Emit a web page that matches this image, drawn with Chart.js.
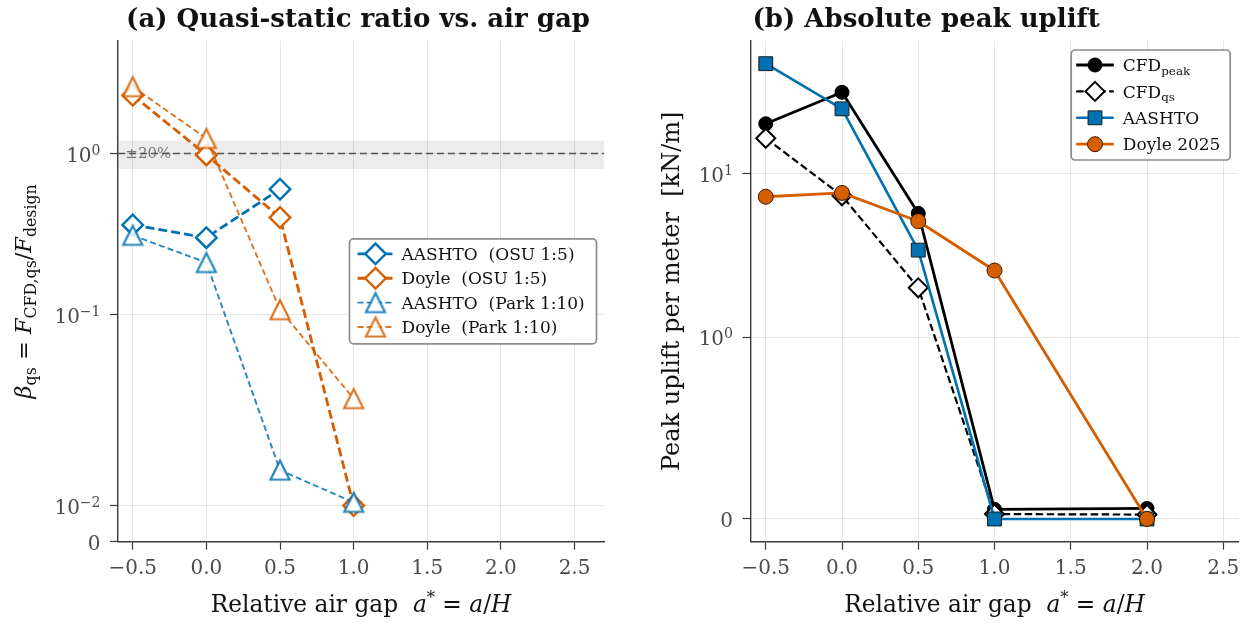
<!DOCTYPE html>
<html>
<head>
<meta charset="utf-8">
<script src="https://cdn.jsdelivr.net/npm/chart.js@4.4.1/dist/chart.umd.min.js"></script>
<style>
  html, body { margin: 0; padding: 0; background: #fff; }
  #wrap { position: relative; width: 1250px; height: 623px; overflow: hidden; }
  .panel { position: absolute; top: 0; width: 625px; height: 623px; }
</style>
</head>
<body>
<div id="wrap">
  <div class="panel" style="left:0"><canvas id="ratioChart" width="625" height="623"></canvas></div>
  <div class="panel" style="left:625px"><canvas id="upliftChart" width="625" height="623"></canvas></div>
</div>
<script>
// Panel (a): quasi-static ratio against relative air gap
const ratioGap = [-0.5, 0.0, 0.5, 1.0];
const aashtoOsu = [0.36, 0.30, 0.60, null];
const doyleOsu = [2.3, 0.98, 0.40, 0.0101];
const aashtoPark = [0.31, 0.21, 0.020, 0.011];
const doylePark = [2.6, 1.24, 0.107, 0.040];

// Panel (b): absolute peak uplift [kN/m]
const upliftGap = [-0.5, 0.0, 0.5, 1.0, 2.0];
const cfdPeak = [20.1, 31.3, 5.7, 0.053, 0.058];
const cfdQs = [16.4, 7.3, 2.0, 0.027, 0.024];
const aashtoUplift = [46.8, 24.8, 3.4, 0, 0];
const doyleUplift = [7.2, 7.6, 5.1, 2.55, 0];

// axes ticks ('^' marks an exponent)
const xTicks = [-0.5, 0, 0.5, 1, 1.5, 2, 2.5];
const xTickLabels = ['−0.5', '0.0', '0.5', '1.0', '1.5', '2.0', '2.5'];
const ratioTicks = [0, 0.01, 0.1, 1];
const ratioTickLabels = ['0', '10^−2', '10^−1', '10^0'];
const upliftTicks = [0, 1, 10];
const upliftTickLabels = ['0', '10^0', '10^1'];

// ±20% acceptance band around beta = 1
const bandLow = 0.8;
const bandHigh = 1.2;
const bandRef = 1.0;
const bandLabel = '±20%';
const bandLabelX = -0.55;

const SERIF = '"DejaVu Serif", "Liberation Serif", serif';
const BLUE = '#0072B2';
const ORANGE = '#D55E00';
const BLUE_LT = 'rgba(0,114,178,0.85)';
const ORANGE_LT = 'rgba(213,94,0,0.85)';
const WHITE_LT = 'rgba(255,255,255,0.85)';
const TICK_SIZE = 20;
const TICK_COLOR = '#4a4a4a';

// symmetric log scale (linear near zero, log10 beyond linthresh)
class SymlogScale extends Chart.Scale {
  static id = 'symlog';
  static defaults = {};

  determineDataLimits() {
    this.min = this.options.min;
    this.max = this.options.max;
  }
  buildTicks() {
    return this.options.tickValues.map(value => ({ value }));
  }
  tf(v) {
    const c = this.options.linthresh;
    const k = this.options.linscale / (1 - 1 / 10);
    const a = Math.abs(v);
    const t = a <= c ? a * k : c * (k + Math.log10(a / c));
    return Math.sign(v) * t;
  }
  tfInv(t) {
    const c = this.options.linthresh;
    const k = this.options.linscale / (1 - 1 / 10);
    const a = Math.abs(t);
    const v = a <= c * k ? a / k : c * Math.pow(10, a / c - k);
    return Math.sign(t) * v;
  }
  configure() {
    super.configure();
    this._t0 = this.tf(this.min);
    this._t1 = this.tf(this.max);
  }
  getPixelForValue(value) {
    if (value === null || isNaN(value)) return NaN;
    return this.getPixelForDecimal((this.tf(value) - this._t0) / (this._t1 - this._t0));
  }
  getValueForPixel(pixel) {
    return this.tfInv(this._t0 + this.getDecimalForPixel(pixel) * (this._t1 - this._t0));
  }
  getLabelForValue(value) {
    return String(value);
  }
}
Chart.register(SymlogScale);

// upward triangle centred on its bounding box, used as a point style image
function triangleMarker(r, lw, stroke, fill) {
  const size = Math.ceil(2 * (r + 2 * lw));
  const c = document.createElement('canvas');
  c.width = size;
  c.height = size;
  const g = c.getContext('2d');
  const m = size / 2;
  g.beginPath();
  g.moveTo(m, m - r);
  g.lineTo(m - r, m + r);
  g.lineTo(m + r, m + r);
  g.closePath();
  g.fillStyle = fill;
  g.fill();
  g.lineJoin = 'miter';
  g.lineWidth = lw;
  g.strokeStyle = stroke;
  g.stroke();
  return c;
}

// --- small rich-text helper for labels with italics / sub / superscripts ---
function fontStr(size, kind) {
  const it = kind === 'i' ? 'italic ' : '';
  const bd = kind === 'b' ? 'bold ' : '';
  return `${it}${bd}${size}px ${SERIF}`;
}
function partMetrics(kind, size) {
  if (kind === 'sub') return { size: size * 0.7, dy: size * 0.22 };
  if (kind === 'sup') return { size: size * 0.7, dy: -size * 0.36 };
  return { size, dy: 0 };
}
function measureRich(ctx, parts, size) {
  let w = 0;
  for (const [text, kind] of parts) {
    ctx.font = fontStr(partMetrics(kind, size).size, kind);
    w += ctx.measureText(text).width;
  }
  return w;
}
function drawRich(ctx, parts, size, x, y, align, color) {
  const total = measureRich(ctx, parts, size);
  let cx = align === 'center' ? x - total / 2 : (align === 'right' ? x - total : x);
  ctx.save();
  ctx.fillStyle = color;
  ctx.textAlign = 'left';
  ctx.textBaseline = 'alphabetic';
  for (const [text, kind] of parts) {
    const m = partMetrics(kind, size);
    ctx.font = fontStr(m.size, kind);
    ctx.fillText(text, cx, y + m.dy);
    cx += ctx.measureText(text).width;
  }
  ctx.restore();
}
function powerParts(label) {
  const [base, exp] = label.split('^');
  return exp === undefined ? [[base, 'r']] : [[base, 'r'], [exp, 'sup']];
}

function drawLegend(chart, lg) {
  const ctx = chart.ctx;
  const area = chart.chartArea;
  const x0 = area.right - lg.inset - lg.w;
  const y0 = lg.top !== undefined ? area.top + lg.top : (area.top + area.bottom) / 2 - lg.h / 2;
  ctx.save();
  ctx.beginPath();
  ctx.roundRect(x0, y0, lg.w, lg.h, 4);
  ctx.fillStyle = 'rgba(255,255,255,0.92)';
  ctx.fill();
  ctx.lineWidth = 1.7;
  ctx.strokeStyle = '#8c8c8c';
  ctx.stroke();
  chart.data.datasets.forEach((ds, i) => {
    const y = y0 + lg.firstRow + i * lg.rowGap;
    const hx0 = x0 + lg.handleX;
    const hx1 = hx0 + lg.handleLen;
    ctx.save();
    ctx.strokeStyle = ds.borderColor;
    ctx.lineWidth = ds.borderWidth;
    ctx.setLineDash(ds.borderDash || []);
    ctx.beginPath();
    ctx.moveTo(hx0, y);
    ctx.lineTo(hx1, y);
    ctx.stroke();
    ctx.setLineDash([]);
    ctx.fillStyle = ds.pointBackgroundColor;
    ctx.strokeStyle = ds.pointBorderColor;
    ctx.lineWidth = ds.pointBorderWidth;
    Chart.helpers.drawPoint(ctx, {
      pointStyle: ds.pointStyle, radius: ds.pointRadius,
      borderWidth: ds.pointBorderWidth, rotation: 0
    }, (hx0 + hx1) / 2, y);
    ctx.restore();
    drawRich(ctx, ds.legendParts, lg.font, x0 + lg.textX, y + lg.font * 0.36, 'left', '#111');
  });
  ctx.restore();
}

const decorPlugin = {
  id: 'decor',
  beforeDatasetsDraw(chart, args, opts) {
    if (!opts.band) return;
    const { ctx, chartArea: area } = chart;
    const ys = chart.scales.y;
    const xs = chart.scales.x;
    const yTop = ys.getPixelForValue(bandHigh);
    const yBot = ys.getPixelForValue(bandLow);
    const yRef = ys.getPixelForValue(bandRef);
    ctx.save();
    ctx.fillStyle = 'rgba(128,128,128,0.15)';
    ctx.fillRect(area.left, yTop, area.right - area.left, yBot - yTop);
    ctx.font = `15px ${SERIF}`;
    ctx.fillStyle = 'rgba(80,80,80,0.75)';
    ctx.textAlign = 'left';
    ctx.textBaseline = 'middle';
    ctx.fillText(bandLabel, xs.getPixelForValue(bandLabelX), yRef + 1);
    ctx.strokeStyle = '#555';
    ctx.lineWidth = 1.4;
    ctx.setLineDash([7, 4]);
    ctx.beginPath();
    ctx.moveTo(area.left, yRef);
    ctx.lineTo(area.right, yRef);
    ctx.stroke();
    ctx.restore();
  },
  afterDraw(chart, args, opts) {
    const { ctx, chartArea: area } = chart;
    const cx = (area.left + area.right) / 2;
    const cy = (area.top + area.bottom) / 2;
    // y tick labels with raised exponents
    const ys = chart.scales.y;
    ys.ticks.forEach((t, i) => {
      drawRich(ctx, powerParts(opts.yTickLabels[i]), TICK_SIZE,
        area.left - 17.5, ys.getPixelForValue(t.value) + 8.3, 'right', TICK_COLOR);
    });
    // panel title
    if (opts.titleAlign === 'left') {
      drawRich(ctx, [[opts.title, 'b']], 26, area.left + opts.titleShift, 27, 'left', '#111');
    } else {
      drawRich(ctx, [[opts.title, 'b']], 26, cx + opts.titleShift, 27, 'center', '#111');
    }
    // axis titles
    drawRich(ctx, opts.xLabel, 23.3, cx, 611.5, 'center', '#111');
    ctx.save();
    ctx.translate(opts.yLabelX, cy);
    ctx.rotate(-Math.PI / 2);
    drawRich(ctx, opts.yLabel, opts.yLabelSize, 0, 0, 'center', '#111');
    ctx.restore();
    drawLegend(chart, opts.legend);
  }
};

const pts = (xs, ys) => xs.map((x, i) => ({ x, y: ys[i] })).filter(p => p.y !== null);

const xLabelParts = [['Relative air gap  ', 'r'], ['a', 'i'], ['*', 'sup'], [' = ', 'r'], ['a', 'i'], ['/', 'r'], ['H', 'i']];

function xScale(max) {
  return {
    type: 'linear', min: -0.6, max,
    afterBuildTicks: s => { s.ticks = xTicks.map(value => ({ value })); },
    afterFit: s => { s.height = 50; s.paddingLeft = 0; s.paddingRight = 0; },
    grid: { color: 'rgba(0,0,0,0.1)', lineWidth: 1, tickLength: 8, tickColor: '#3a3a3a', tickWidth: 1.2 },
    border: { color: '#3a3a3a', width: 1.4 },
    ticks: {
      autoSkip: false, maxRotation: 0, padding: 7.5, color: TICK_COLOR,
      font: { family: SERIF, size: TICK_SIZE },
      callback: (v, i) => xTickLabels[i]
    }
  };
}

function yScale(cfg) {
  return {
    type: 'symlog', min: cfg.min, max: cfg.max,
    linthresh: cfg.linthresh, linscale: 1, tickValues: cfg.ticks,
    afterFit: s => { s.width = cfg.width; s.paddingTop = 0; s.paddingBottom = 0; },
    grid: { color: 'rgba(0,0,0,0.1)', lineWidth: 1, tickLength: 8, tickColor: '#3a3a3a', tickWidth: 1.2 },
    border: { color: '#3a3a3a', width: 1.4 },
    ticks: { display: false }
  };
}

const common = {
  responsive: false,
  animation: false,
  events: [],
  plugins: { legend: { display: false }, tooltip: { enabled: false } }
};

const triBlue = triangleMarker(9.5, 2.2, BLUE_LT, WHITE_LT);
const triOrange = triangleMarker(9.5, 2.2, ORANGE_LT, WHITE_LT);

new Chart(document.getElementById('ratioChart'), {
  type: 'line',
  plugins: [decorPlugin],
  data: {
    datasets: [
      {
        label: 'AASHTO  (OSU 1:5)', legendParts: [['AASHTO  (OSU 1:5)', 'r']],
        data: pts(ratioGap, aashtoOsu), order: 4,
        borderColor: BLUE, borderWidth: 2.8, borderDash: [9, 4], borderJoinStyle: 'round',
        pointStyle: 'rectRot', pointRadius: 10.3, pointBorderWidth: 2.4,
        pointBackgroundColor: '#fff', pointBorderColor: BLUE
      },
      {
        label: 'Doyle  (OSU 1:5)', legendParts: [['Doyle  (OSU 1:5)', 'r']],
        data: pts(ratioGap, doyleOsu), order: 3,
        borderColor: ORANGE, borderWidth: 2.8, borderDash: [9, 4], borderJoinStyle: 'round',
        pointStyle: 'rectRot', pointRadius: 10.3, pointBorderWidth: 2.4,
        pointBackgroundColor: '#fff', pointBorderColor: ORANGE
      },
      {
        label: 'AASHTO  (Park 1:10)', legendParts: [['AASHTO  (Park 1:10)', 'r']],
        data: pts(ratioGap, aashtoPark), order: 2,
        borderColor: BLUE_LT, borderWidth: 1.9, borderDash: [6, 3.3], borderJoinStyle: 'round',
        pointStyle: triBlue, pointRadius: 11, pointBorderWidth: 2.2,
        pointBackgroundColor: WHITE_LT, pointBorderColor: BLUE_LT
      },
      {
        label: 'Doyle  (Park 1:10)', legendParts: [['Doyle  (Park 1:10)', 'r']],
        data: pts(ratioGap, doylePark), order: 1,
        borderColor: ORANGE_LT, borderWidth: 1.9, borderDash: [6, 3.3], borderJoinStyle: 'round',
        pointStyle: triOrange, pointRadius: 11, pointBorderWidth: 2.2,
        pointBackgroundColor: WHITE_LT, pointBorderColor: ORANGE_LT
      }
    ]
  },
  options: {
    ...common,
    layout: { padding: { left: 0, top: 41, right: 21, bottom: 31.3 } },
    scales: {
      x: xScale(2.7),
      y: yScale({ min: 0, max: 5, linthresh: 0.05, ticks: ratioTicks, width: 118 })
    },
    plugins: {
      ...common.plugins,
      decor: {
        band: true,
        yTickLabels: ratioTickLabels,
        title: '(a) Quasi-static ratio vs. air gap', titleAlign: 'center', titleShift: -3,
        xLabel: xLabelParts,
        yLabel: [['β', 'i'], ['qs', 'sub'], [' = ', 'r'], ['F', 'i'], ['CFD,qs', 'sub'], ['/', 'r'], ['F', 'i'], ['design', 'sub']],
        yLabelX: 31, yLabelSize: 22.5,
        legend: { w: 247, h: 105, inset: 7.5, firstRow: 15, rowGap: 24.4, handleX: 8, handleLen: 36, textX: 52, font: 17 }
      }
    }
  }
});

new Chart(document.getElementById('upliftChart'), {
  type: 'line',
  plugins: [decorPlugin],
  data: {
    datasets: [
      {
        label: 'CFD peak', legendParts: [['CFD', 'r'], ['peak', 'sub']],
        data: pts(upliftGap, cfdPeak), order: 4,
        borderColor: '#000', borderWidth: 2.8, borderJoinStyle: 'round',
        pointStyle: 'circle', pointRadius: 7, pointBorderWidth: 1,
        pointBackgroundColor: '#000', pointBorderColor: '#000'
      },
      {
        label: 'CFD qs', legendParts: [['CFD', 'r'], ['qs', 'sub']],
        data: pts(upliftGap, cfdQs), order: 3,
        borderColor: '#000', borderWidth: 2.2, borderDash: [7.5, 3.5], borderJoinStyle: 'round',
        pointStyle: 'rectRot', pointRadius: 9.5, pointBorderWidth: 2,
        pointBackgroundColor: '#fff', pointBorderColor: '#000'
      },
      {
        label: 'AASHTO', legendParts: [['AASHTO', 'r']],
        data: pts(upliftGap, aashtoUplift), order: 2,
        borderColor: BLUE, borderWidth: 2.6, borderJoinStyle: 'round',
        pointStyle: 'rect', pointRadius: 9.8, pointBorderWidth: 1,
        pointBackgroundColor: BLUE, pointBorderColor: '#1a1a1a'
      },
      {
        label: 'Doyle 2025', legendParts: [['Doyle 2025', 'r']],
        data: pts(upliftGap, doyleUplift), order: 1,
        borderColor: ORANGE, borderWidth: 2.8, borderJoinStyle: 'round',
        pointStyle: 'circle', pointRadius: 7.5, pointBorderWidth: 1,
        pointBackgroundColor: ORANGE, pointBorderColor: '#3a1a00'
      }
    ]
  },
  options: {
    ...common,
    layout: { padding: { left: 0, top: 41, right: 11, bottom: 31.3 } },
    scales: {
      x: xScale(2.6),
      y: yScale({ min: -0.125, max: 64.4, linthresh: 1, ticks: upliftTicks, width: 125.5 })
    },
    plugins: {
      ...common.plugins,
      decor: {
        band: false,
        yTickLabels: upliftTickLabels,
        title: '(b) Absolute peak uplift', titleAlign: 'left', titleShift: 2,
        xLabel: xLabelParts,
        yLabel: [['Peak uplift per meter  [kN/m]', 'r']],
        yLabelX: 54, yLabelSize: 24,
        legend: { w: 159, h: 110, inset: 8.3, top: 9, firstRow: 15, rowGap: 26.4, handleX: 5, handleLen: 37.6, textX: 51.6, font: 17 }
      }
    }
  }
});
</script>
</body>
</html>
